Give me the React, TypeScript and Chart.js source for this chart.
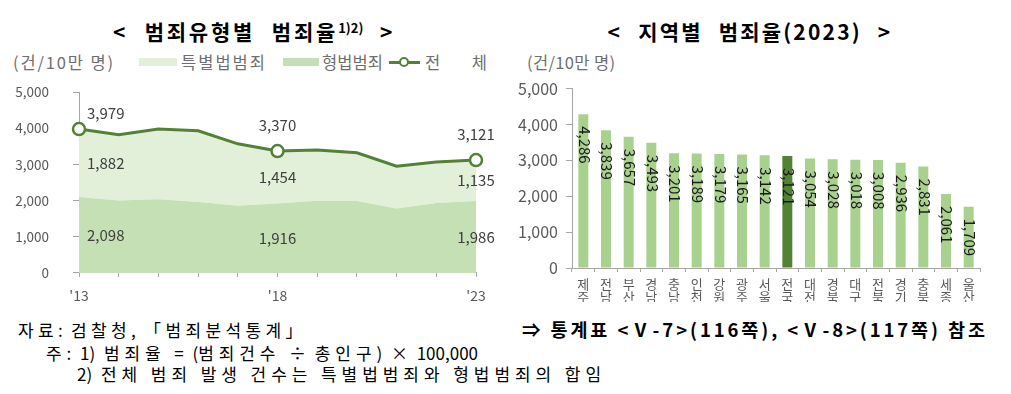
import React, { useEffect, useLayoutEffect, useRef, useState } from 'react';
import { Chart, registerables } from 'chart.js';

Chart.register(...registerables);

// ---------- Data ----------
const years = ['2013', '2014', '2015', '2016', '2017', '2018', '2019', '2020', '2021', '2022', '2023'];
const totalRate = [3979, 3820, 3980, 3930, 3570, 3370, 3400, 3320, 2950, 3070, 3121];
const criminalRate = [2098, 2000, 2040, 1960, 1860, 1916, 1995, 1990, 1780, 1935, 1986];
const specialRate = [1882, 1820, 1940, 1970, 1710, 1454, 1405, 1330, 1170, 1135, 1135];
const labeledYears = ['2013', '2018', '2023'];

const regions = ['제주', '전남', '부산', '경남', '충남', '인천', '강원', '광주', '서울', '전국', '대전', '경북', '대구', '전북', '경기', '충북', '세종', '울산'];
const regionRates = [4286, 3839, 3657, 3493, 3201, 3189, 3179, 3165, 3142, 3121, 3054, 3028, 3018, 3008, 2936, 2831, 2061, 1709];
const highlightRegion = '전국';

const yMin = 0;
const yMax = 5000;
const yStep = 1000;

const FONT = "'Noto Sans CJK KR', 'Noto Sans', sans-serif";
const fmt = (v: number) => v.toLocaleString('en-US');

const LIGHT = '#E2F0D9';
const MID = '#C5E0B4';
const BAR = '#A9D18E';
const DARK = '#548235';
const AXIS = '#A6A6A6';
const TICK = '#595959';

// ---------- Chart plugins ----------
const leftLabels = {
  id: 'leftLabels',
  afterDatasetsDraw(chart: any) {
    const ctx = chart.ctx;
    const yScale = chart.scales.y;
    const metaTotal = chart.getDatasetMeta(2);
    ctx.save();
    ctx.font = `15px ${FONT}`;
    ctx.fillStyle = '#404040';
    ctx.textBaseline = 'middle';
    years.forEach((yr, i) => {
      if (!labeledYears.includes(yr)) return;
      const pt = metaTotal.data[i];
      const first = i === 0;
      ctx.textAlign = first ? 'left' : 'center';
      const lx = first ? pt.x + 8 : pt.x;
      const yTotal = pt.y + (first ? -16 : -26);
      const crimTop = criminalRate[i];
      const ySpecial = yScale.getPixelForValue(crimTop + specialRate[i] / 2);
      const yCrim = yScale.getPixelForValue(crimTop / 2);
      ctx.fillText(fmt(totalRate[i]), lx, yTotal);
      ctx.fillText(fmt(specialRate[i]), lx, ySpecial);
      ctx.fillText(fmt(criminalRate[i]), lx, yCrim);
    });
    ctx.restore();
  },
};

const barLabels = {
  id: 'barLabels',
  afterDatasetsDraw(chart: any) {
    const ctx = chart.ctx;
    const meta = chart.getDatasetMeta(0);
    ctx.save();
    ctx.font = `15px ${FONT}`;
    ctx.fillStyle = '#1A1A1A';
    ctx.textBaseline = 'middle';
    ctx.textAlign = 'left';
    meta.data.forEach((bar: any, i: number) => {
      ctx.save();
      ctx.translate(bar.x + 1, bar.y + 12);
      ctx.rotate(Math.PI / 2);
      ctx.fillText(fmt(regionRates[i]), 0, 0);
      ctx.restore();
    });
    ctx.restore();
  },
};

// ---------- Text that is spaced out to a given width ----------
const WIDE = /[\u1100-\u11FF\u3130-\u318F\uAC00-\uD7AF「」 ]/;

function FitText(props: {
  text: string;
  x: number;
  y: number;
  width: number;
  mode: 'hangul' | 'all';
  style: React.CSSProperties;
}) {
  const { text, x, y, width, mode, style } = props;
  const ref = useRef<HTMLDivElement>(null);
  const [ls, setLs] = useState<number | null>(null);
  const runs: { t: string; wide: boolean }[] = [];
  Array.from(text).forEach((c) => {
    const wide = mode === 'all' ? true : WIDE.test(c);
    const last = runs[runs.length - 1];
    if (last && last.wide === wide) last.t += c;
    else runs.push({ t: c, wide });
  });
  const nWide = runs.filter((r) => r.wide).reduce((s, r) => s + Array.from(r.t).length, 0);

  useLayoutEffect(() => {
    if (ls !== null || !ref.current) return;
    const w = ref.current.getBoundingClientRect().width;
    setLs(Math.max(0, (width - w) / Math.max(1, nWide - (mode === 'all' ? 1 : 0))));
  }, [ls]);

  return (
    <div ref={ref} style={{ position: 'absolute', left: x, top: y, whiteSpace: 'nowrap', letterSpacing: 0, ...style }}>
      {runs.map((r, i) => (
        <span key={i} style={{ letterSpacing: r.wide ? ls ?? 0 : 0 }}>
          {r.t}
        </span>
      ))}
    </div>
  );
}

export default function App() {
  const leftRef = useRef<HTMLCanvasElement>(null);
  const rightRef = useRef<HTMLCanvasElement>(null);

  useEffect(() => {
    const left = new Chart(leftRef.current!, {
      type: 'line',
      data: {
        labels: years,
        datasets: [
          { label: '형법범죄', data: criminalRate, yAxisID: 'y', stack: 's', fill: 'origin', backgroundColor: MID, borderWidth: 0, pointRadius: 0, tension: 0, order: 1 },
          { label: '특별법범죄', data: specialRate, yAxisID: 'y', stack: 's', fill: '-1', backgroundColor: LIGHT, borderWidth: 0, pointRadius: 0, tension: 0, order: 2 },
          {
            label: '전체', data: totalRate, yAxisID: 'y2', fill: false, borderColor: DARK, borderWidth: 3, tension: 0,
            pointRadius: years.map((y) => (labeledYears.includes(y) ? 6 : 0)),
            pointHoverRadius: 0,
            pointBackgroundColor: '#FFFFFF', pointBorderColor: DARK, pointBorderWidth: 2.5, order: 0,
          },
        ],
      } as any,
      options: {
        responsive: false,
        animation: false,
        layout: { padding: { top: 0, right: 24, left: 0, bottom: 0 } },
        plugins: { legend: { display: false }, tooltip: { enabled: false } },
        scales: {
          x: {
            grid: { display: true, drawOnChartArea: false, drawTicks: true, tickLength: 4, color: AXIS },
            border: { display: true, color: AXIS },
            ticks: {
              autoSkip: false, maxRotation: 0, padding: 10, color: TICK, font: { family: FONT, size: 14 },
              callback: (_v: any, i: number) => (labeledYears.includes(years[i]) ? "'" + years[i].slice(2) : ''),
            },
            afterFit: (s: any) => { s.height = 30; },
          },
          y: {
            stacked: true, min: yMin, max: yMax,
            grid: { display: true, drawOnChartArea: false, drawTicks: true, tickLength: 6, color: AXIS },
            border: { display: true, color: AXIS },
            ticks: { stepSize: yStep, padding: 24, color: TICK, font: { family: FONT, size: 13.5 }, callback: (v: any) => fmt(v) },
            afterFit: (s: any) => { s.width = 79; },
          },
          y2: { display: false, min: yMin, max: yMax },
        },
      } as any,
      plugins: [leftLabels],
    });

    const right = new Chart(rightRef.current!, {
      type: 'bar',
      data: {
        labels: regions.map((r) => r.split('')),
        datasets: [
          {
            data: regionRates,
            backgroundColor: regions.map((r) => (r === highlightRegion ? DARK : BAR)),
            barPercentage: 0.44,
            categoryPercentage: 1,
          },
        ],
      },
      options: {
        responsive: false,
        animation: false,
        layout: { padding: { top: 0, right: 30, left: 0, bottom: 0 } },
        plugins: { legend: { display: false }, tooltip: { enabled: false } },
        scales: {
          x: {
            grid: { display: true, drawOnChartArea: false, drawTicks: true, tickLength: 4, color: AXIS, offset: true },
            border: { display: true, color: AXIS },
            ticks: { autoSkip: false, maxRotation: 0, padding: 6, color: TICK, font: { family: FONT, size: 13, lineHeight: 1.0 } },
            afterFit: (s: any) => { s.height = 34; },
          },
          y: {
            min: yMin, max: yMax,
            grid: { display: true, drawOnChartArea: false, drawTicks: true, tickLength: 6, color: AXIS },
            border: { display: true, color: AXIS },
            ticks: { stepSize: yStep, padding: 8, color: TICK, font: { family: FONT, size: 16 }, callback: (v: any) => fmt(v) },
            afterFit: (s: any) => { s.width = 62; },
          },
        },
      } as any,
      plugins: [barLabels],
    });

    return () => {
      left.destroy();
      right.destroy();
    };
  }, []);

  const abs = (x: number, y: number, extra: React.CSSProperties = {}): React.CSSProperties => ({
    position: 'absolute', left: x, top: y, whiteSpace: 'nowrap', ...extra,
  });

  const titleStyle: React.CSSProperties = {
    fontFamily: FONT, fontWeight: 700, fontSize: 21, lineHeight: '26px', color: '#000', textAlign: 'center', letterSpacing: 2.8, wordSpacing: 9,
  };
  const legendText: React.CSSProperties = { fontFamily: FONT, fontSize: 16.5, lineHeight: '18px', color: '#6E6E6E' };
  const noteText: React.CSSProperties = { fontFamily: FONT, fontSize: 17, lineHeight: '22px', color: '#000' };

  return (
    <div style={{ position: 'absolute', left: 0, top: 0, width: 1011, height: 394, background: '#fff', overflow: 'hidden' }}>
      {/* Titles */}
      <div style={abs(0, 18, { ...titleStyle, width: 508 })}>
        {'< 범죄유형별 범죄율'}
        <sup style={{ fontSize: 13, verticalAlign: 'top', position: 'relative', top: -3, letterSpacing: 0 }}>1)2)</sup>
        {' >'}
      </div>
      <div style={abs(510, 18, { ...titleStyle, width: 480, letterSpacing: 2.2 })}>{'< 지역별 범죄율(2023) >'}</div>

      {/* Unit + legend (left chart) */}
      <FitText text="(건/10만 명)" x={13} y={53} width={100} mode="all" style={legendText} />
      <div style={abs(139, 58, { width: 38, height: 8, background: LIGHT })} />
      <FitText text="특별법범죄" x={181} y={53} width={84} mode="all" style={legendText} />
      <div style={abs(283, 58, { width: 36, height: 8, background: MID })} />
      <FitText text="형법범죄" x={322} y={53} width={61} mode="all" style={legendText} />
      <div style={abs(389, 60.5, { width: 31, height: 3, background: DARK })} />
      <div style={abs(399, 57, { width: 6, height: 6, borderRadius: '50%', border: `2px solid ${DARK}`, background: '#fff' })} />
      <FitText text="전 체" x={425} y={53} width={62} mode="all" style={legendText} />

      {/* Unit (right chart) */}
      <FitText text="(건/10만 명)" x={527} y={53} width={88} mode="all" style={legendText} />

      {/* Charts */}
      <canvas ref={leftRef} width={500} height={245} style={abs(0, 60, { width: 500, height: 245 })} />
      <canvas ref={rightRef} width={500} height={231} style={abs(510, 71, { width: 500, height: 231 })} />

      {/* Notes */}
      <FitText text="자료: 검찰청, 「범죄분석통계」" x={18} y={319} width={289} mode="hangul" style={noteText} />
      <FitText text="주: 1) 범죄율 = (범죄건수 ÷ 총인구) × 100,000" x={46} y={342} width={432} mode="hangul" style={noteText} />
      <FitText text="2) 전체 범죄 발생 건수는 특별법범죄와 형법범죄의 합임" x={77} y={363} width={529} mode="hangul" style={noteText} />
      <FitText
        text="⇒ 통계표 <Ⅴ-7>(116쪽), <Ⅴ-8>(117쪽) 참조"
        x={522}
        y={318}
        width={463}
        mode="all"
        style={{ ...noteText, fontSize: 18.5, fontWeight: 700 }}
      />
    </div>
  );
}
